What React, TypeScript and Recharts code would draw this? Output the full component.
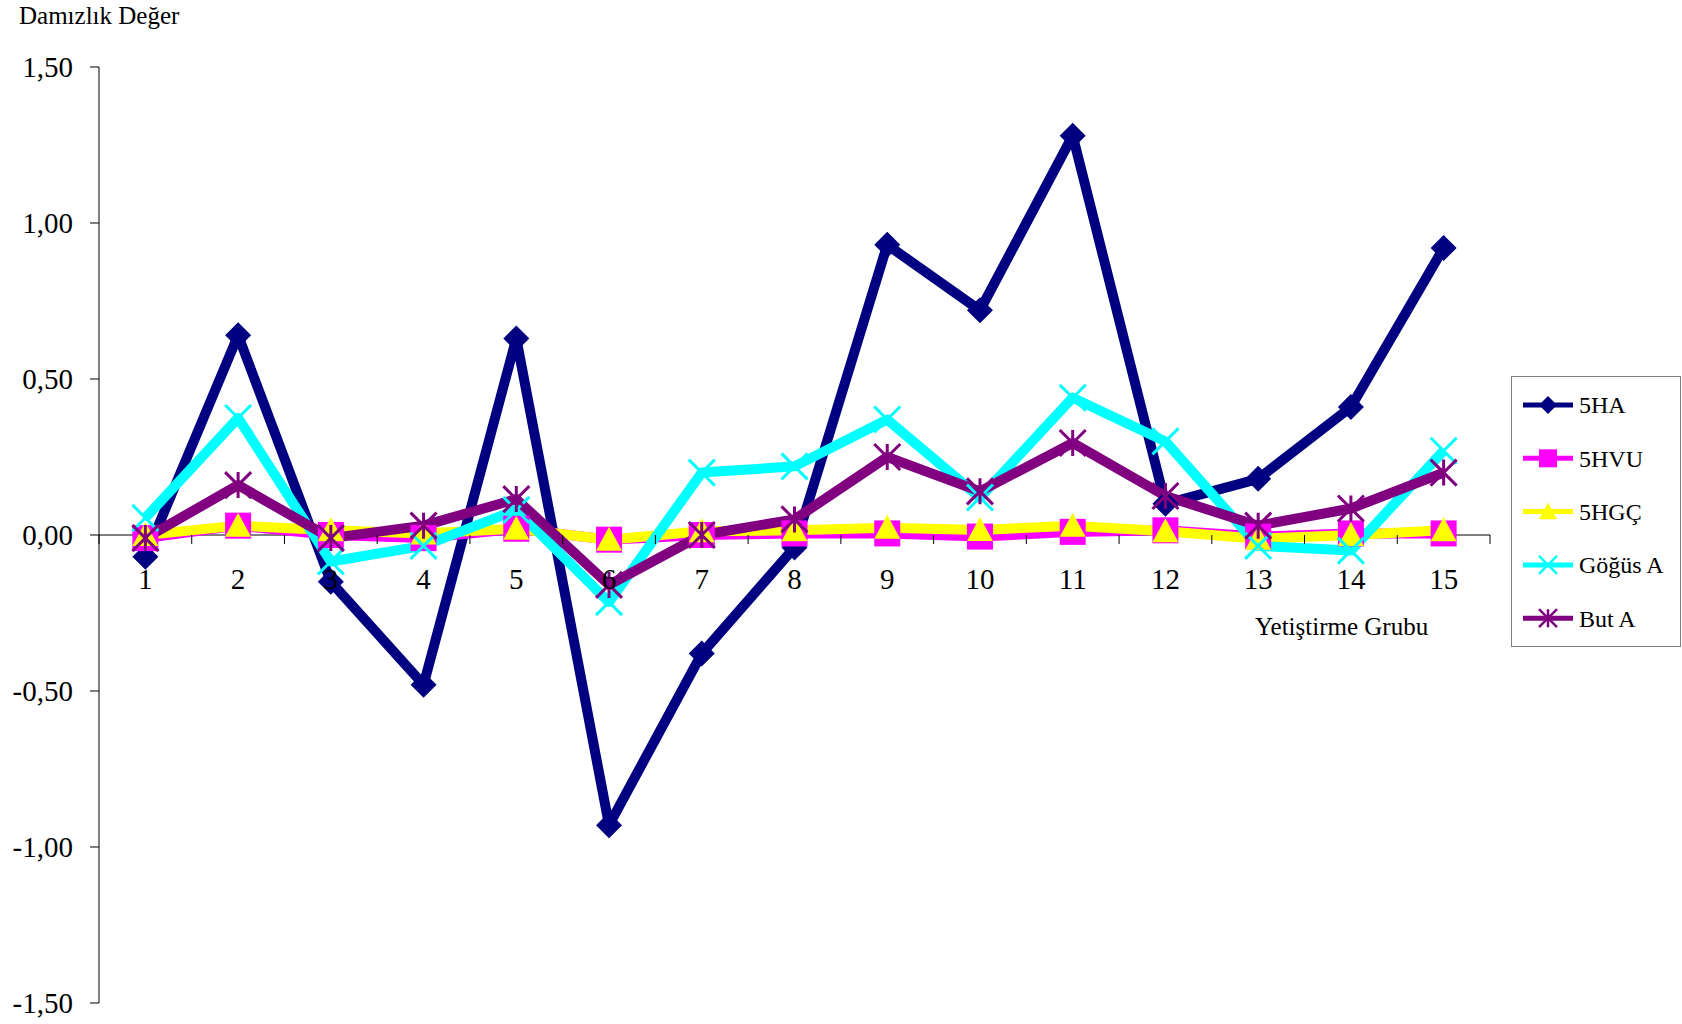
import React from 'react';
import { LineChart, Line, XAxis, YAxis, ReferenceLine } from 'recharts';

// ---- data ----
const groups = [1, 2, 3, 4, 5, 6, 7, 8, 9, 10, 11, 12, 13, 14, 15];
const ha5 = [-0.07, 0.64, -0.15, -0.48, 0.63, -0.93, -0.38, -0.04, 0.93, 0.72, 1.28, 0.1, 0.18, 0.41, 0.92];
const hvu5 = [-0.01, 0.03, 0.0, -0.01, 0.02, -0.015, 0.0, 0.005, 0.005, -0.005, 0.01, 0.015, -0.005, 0.005, 0.005];
const hgc5 = [0.0, 0.03, 0.015, 0.005, 0.02, -0.015, 0.012, 0.015, 0.023, 0.016, 0.03, 0.012, -0.012, 0.0, 0.015];
const gogusA = [0.055, 0.375, -0.085, -0.035, 0.08, -0.215, 0.2, 0.22, 0.37, 0.12, 0.44, 0.3, -0.035, -0.05, 0.27];
const butA = [-0.01, 0.16, -0.01, 0.03, 0.115, -0.16, 0.0, 0.05, 0.25, 0.14, 0.295, 0.125, 0.03, 0.085, 0.2];

const seriesKeys = ['ha5', 'hvu5', 'hgc5', 'gogusA', 'butA'];
const seriesNames = ['5HA', '5HVU', '5HGÇ', 'Göğüs A', 'But A'];
const seriesValues = [ha5, hvu5, hgc5, gogusA, butA];
const seriesColors = ['#000080', '#FF00FF', '#FFFF00', '#00FFFF', '#800080'];
const seriesShapes = ['diamond', 'square', 'triangle', 'cross', 'star'];

const yTicks = [-1.5, -1, -0.5, 0, 0.5, 1, 1.5];
const yTitle = 'Damızlık Değer';
const xTitle = 'Yetiştirme Grubu';

const data = groups.map((g, i) => {
  const row: Record<string, number> = { g };
  seriesKeys.forEach((k, s) => {
    row[k] = seriesValues[s][i];
  });
  return row;
});

// ---- layout ----
const W = 1682;
const H = 1024;
const FONT = '"Liberation Serif", "Times New Roman", serif';
const MARGIN = { top: 67, right: 192, bottom: 0, left: 0 };
const Y_AXIS_W = 99;
const X_AXIS_H = 21;
const PLOT_LEFT = MARGIN.left + Y_AXIS_W;
const PLOT_RIGHT = W - MARGIN.right;
const PLOT_TOP = MARGIN.top;
const PLOT_H = H - MARGIN.top - MARGIN.bottom - X_AXIS_H;
const Y_MIN = -1.5;
const Y_MAX = 1.5;
const ZERO_Y = PLOT_TOP + (PLOT_H * (Y_MAX - 0)) / (Y_MAX - Y_MIN);
const STEP = (PLOT_RIGHT - PLOT_LEFT) / groups.length;

function Marker({ shape, cx, cy, color, r, sw }: { shape: string; cx: number; cy: number; color: string; r: number; sw: number }) {
  if (cx == null || cy == null || isNaN(cx) || isNaN(cy)) return null;
  switch (shape) {
    case 'diamond':
      return <polygon points={`${cx},${cy - r} ${cx + r},${cy} ${cx},${cy + r} ${cx - r},${cy}`} fill={color} />;
    case 'square':
      return <rect x={cx - r} y={cy - r} width={2 * r} height={2 * r} fill={color} />;
    case 'triangle':
      return <polygon points={`${cx},${cy - r} ${cx + r},${cy + r * 0.85} ${cx - r},${cy + r * 0.85}`} fill={color} />;
    case 'cross':
      return (
        <path
          d={`M${cx - r},${cy - r}L${cx + r},${cy + r}M${cx - r},${cy + r}L${cx + r},${cy - r}`}
          stroke={color}
          strokeWidth={sw}
          fill="none"
        />
      );
    case 'star':
      return (
        <path
          d={`M${cx - r},${cy - r}L${cx + r},${cy + r}M${cx - r},${cy + r}L${cx + r},${cy - r}M${cx},${cy - r}L${cx},${cy + r}`}
          stroke={color}
          strokeWidth={sw}
          fill="none"
        />
      );
    default:
      return null;
  }
}

const fmt = (v: number) => v.toFixed(2).replace('.', ',');

const XTick = (props: any) => {
  const { x, payload } = props;
  const half = STEP / 2;
  const isLast = payload.value === groups[groups.length - 1];
  return (
    <g>
      <line x1={x - half} x2={x - half} y1={ZERO_Y} y2={ZERO_Y + 9} stroke="#000" strokeWidth={1} />
      {isLast && <line x1={x + half} x2={x + half} y1={ZERO_Y} y2={ZERO_Y + 9} stroke="#000" strokeWidth={1} />}
      <text x={x} y={ZERO_Y + 54} textAnchor="middle" fontSize={29} fontFamily={FONT} fill="#000">
        {payload.value}
      </text>
    </g>
  );
};

const LEG_X = 1511;
const LEG_Y = 376;
const LEG_W = 169;
const LEG_H = 270;

export default function App() {
  return (
    <div style={{ position: 'absolute', left: 0, top: 0, width: W, height: H, background: '#fff' }}>
      <LineChart width={W} height={H} data={data} margin={MARGIN}>
        <ReferenceLine y={0} stroke="#000" strokeWidth={1} zIndex={50} />
        <XAxis
          dataKey="g"
          type="number"
          domain={[0.5, 15.5]}
          ticks={groups}
          interval={0}
          axisLine={false}
          tickLine={false}
          height={X_AXIS_H}
          tick={<XTick />}
          allowDataOverflow
        />
        <YAxis
          width={Y_AXIS_W}
          domain={[Y_MIN, Y_MAX]}
          ticks={yTicks}
          interval={0}
          tickFormatter={fmt}
          tickSize={9}
          tickMargin={17}
          axisLine={{ stroke: '#000', strokeWidth: 1 }}
          tickLine={{ stroke: '#000', strokeWidth: 1 }}
          tick={{ fill: '#000', fontSize: 29, fontFamily: FONT }}
          allowDataOverflow
        />
        {seriesKeys.map((k, s) => (
          <Line
            key={k}
            dataKey={k}
            name={seriesNames[s]}
            type="linear"
            stroke={seriesColors[s]}
            strokeWidth={10}
            strokeLinejoin="round"
            isAnimationActive={false}
            activeDot={false}
            dot={(p: any) => (
              <Marker
                key={`${k}-${p.index}`}
                shape={seriesShapes[s]}
                cx={p.cx}
                cy={p.cy}
                color={seriesColors[s]}
                r={13}
                sw={3}
              />
            )}
          />
        ))}
      </LineChart>
      <svg
        width={W}
        height={H}
        style={{ position: 'absolute', left: 0, top: 0, pointerEvents: 'none' }}
      >
        <text x={19} y={24} fontSize={25} fontFamily={FONT} fill="#000">
          {yTitle}
        </text>
        <text x={1255} y={635} fontSize={25} fontFamily={FONT} fill="#000">
          {xTitle}
        </text>
        <rect x={LEG_X + 0.5} y={LEG_Y + 0.5} width={LEG_W} height={LEG_H} fill="#fff" stroke="#808080" strokeWidth={1} />
        {seriesNames.map((n, s) => {
          const cy = LEG_Y + 29 + s * 53.3;
          return (
            <g key={n}>
              <line x1={LEG_X + 12} x2={LEG_X + 62} y1={cy} y2={cy} stroke={seriesColors[s]} strokeWidth={5} />
              <Marker shape={seriesShapes[s]} cx={LEG_X + 37} cy={cy} color={seriesColors[s]} r={9} sw={2.5} />
              <text x={LEG_X + 68} y={cy} dy="0.35em" fontSize={24} fontFamily={FONT} fill="#000">
                {n}
              </text>
            </g>
          );
        })}
      </svg>
    </div>
  );
}
